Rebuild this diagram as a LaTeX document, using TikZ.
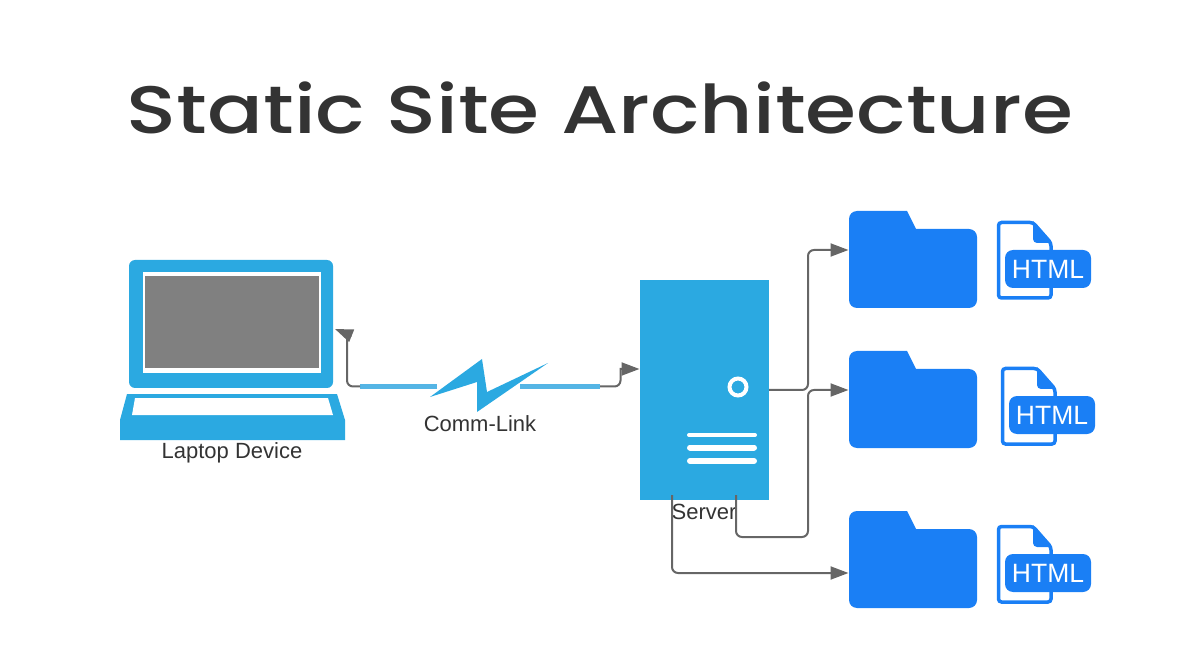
\documentclass[tikz,border=0pt]{standalone}
\usepackage{fontspec}
\setmainfont{Liberation Sans}
\newfontfamily\titlefont{Poppins Medium}
\usetikzlibrary{arrows.meta}
\definecolor{linkblue}{HTML}{2BA9E1}
\definecolor{barblue}{HTML}{55B5E5}
\definecolor{folderblue}{HTML}{1A7FF5}
\definecolor{wiregray}{HTML}{666666}
\definecolor{inkgray}{HTML}{333333}
\tikzset{
  caption/.style={text=inkgray,inner sep=0pt,font=\fontsize{22}{26}\selectfont},
  wire/.style={draw=wiregray,line width=2pt,-{Triangle[length=18pt,width=13pt]}},
  commbar/.style={draw=barblue,line width=5pt},
  slot/.style={draw=white,line width=6pt,line cap=round},
  htmlbadge/.style={fill=folderblue,text=white,rounded corners=8pt,inner sep=0pt,minimum width=86pt,minimum height=38pt,font=\fontsize{26.5}{30}\selectfont},
  folderpic/.pic={
    \fill[folderblue] (0,50) [rounded corners=8pt] -- (0,0) [sharp corners] -- (58,0) -- (67,18) [rounded corners=8pt] -- (128,18) -- (128,97) -- (0,97) -- cycle;
    \coordinate (-port) at (-0.5,39);
    \coordinate (-lowport) at (-0.5,62);
  },
  htmlpic/.pic={
    \draw[folderblue,line width=3.5pt,rounded corners=3pt] (1.5,1.5) -- (36,1.5) -- (54,22) -- (54,77) -- (1.5,77) -- cycle;
    \fill[folderblue] (36,0) -- (55,22) -- (42,22) [rounded corners=4pt] -- (36,22) [sharp corners] -- cycle;
    \node[htmlbadge] (-badge) at (51,48) {HTML};
  }
}
\begin{document}
\begin{tikzpicture}[x=1pt,y=-1pt]
\useasboundingbox (0,0) rectangle (1200,660);

\node[inner sep=0pt,text=inkgray] (title) at (600,107.5) {\scalebox{1.044}[0.85]{\titlefont\fontsize{79}{90}\selectfont Static Site Architecture}};

\node[fill=linkblue,rounded corners=6pt,minimum width=204pt,minimum height=128pt,inner sep=0pt] (lid) at (231,324) {};
\node[fill=white,minimum width=178pt,minimum height=101pt,inner sep=0pt] (bezel) at (232,322.5) {};
\node[fill=gray,minimum width=174pt,minimum height=92pt,inner sep=0pt] (screen) at (232,322) {};
\fill[linkblue] (127,394) -- (337,394) -- (345,420) -- (345,440) -- (120,440) -- (120,420) -- cycle;
\fill[white] (135,398) -- (328,398) -- (333,415) -- (132,415) -- cycle;
\node[caption] (laptoplabel) at (232,453) {Laptop Device};

\fill[linkblue] (430,397) -- (482,359) -- (487,392) -- (548,363) -- (477,412) -- (477,382) -- cycle;
\node[caption] (commlabel) at (480,424) {Comm-Link};
\coordinate (boltleft) at (437,386.5);
\coordinate (boltright) at (520,386.5);
\coordinate (barleft) at (360,386.5);
\coordinate (barright) at (600,386.5);
\draw[commbar] (boltleft) -- (barleft);
\draw[commbar] (boltright) -- (barright);

\node[fill=linkblue,minimum width=129pt,minimum height=220pt,inner sep=0pt] (server) at (704.5,390) {};
\node[circle,draw=white,line width=4pt,fill=linkblue,minimum size=17pt,inner sep=0pt] (power) at (738,387) {};
\draw[slot,line width=4pt] (689,435) -- (755,435);
\draw[slot] (690,447.5) -- (754,447.5);
\draw[slot] (690,461) -- (754,461);
\node[caption] (serverlabel) at (704,512) {Server};

\pic (folderA) at (849,211) {folderpic};
\pic (folderB) at (849,351) {folderpic};
\pic (folderC) at (849,511) {folderpic};

\pic (htmlA) at (997,221) {htmlpic};
\pic (htmlB) at (1001,367) {htmlpic};
\pic (htmlC) at (997,525) {htmlpic};

\coordinate (laptopport) at (335,329);
\coordinate (serverport) at (639.5,369);
\coordinate (serverright) at (769,390);
\coordinate (serverlow) at (736,495);
\coordinate (serverleft) at (672,495);

\draw[wire] (barleft) [rounded corners=6pt] -- (347,386.5) [sharp corners] -- (347,339) -- (351,335.5) -- (laptopport);
\draw[wire] (barright) [rounded corners=6pt] -- (620.5,386.5) [sharp corners] -- (620.5,369) -- (serverport);
\draw[wire,rounded corners=6pt] (serverright) -- (808,390) -- (808,250) -- (folderA-port);
\draw[wire,rounded corners=6pt] (serverlow) -- (736,537) -- (808,537) -- (808,390) -- (folderB-port);
\draw[wire,rounded corners=6pt] (serverleft) -- (672,573) -- (folderC-lowport);
\end{tikzpicture}
\end{document}
